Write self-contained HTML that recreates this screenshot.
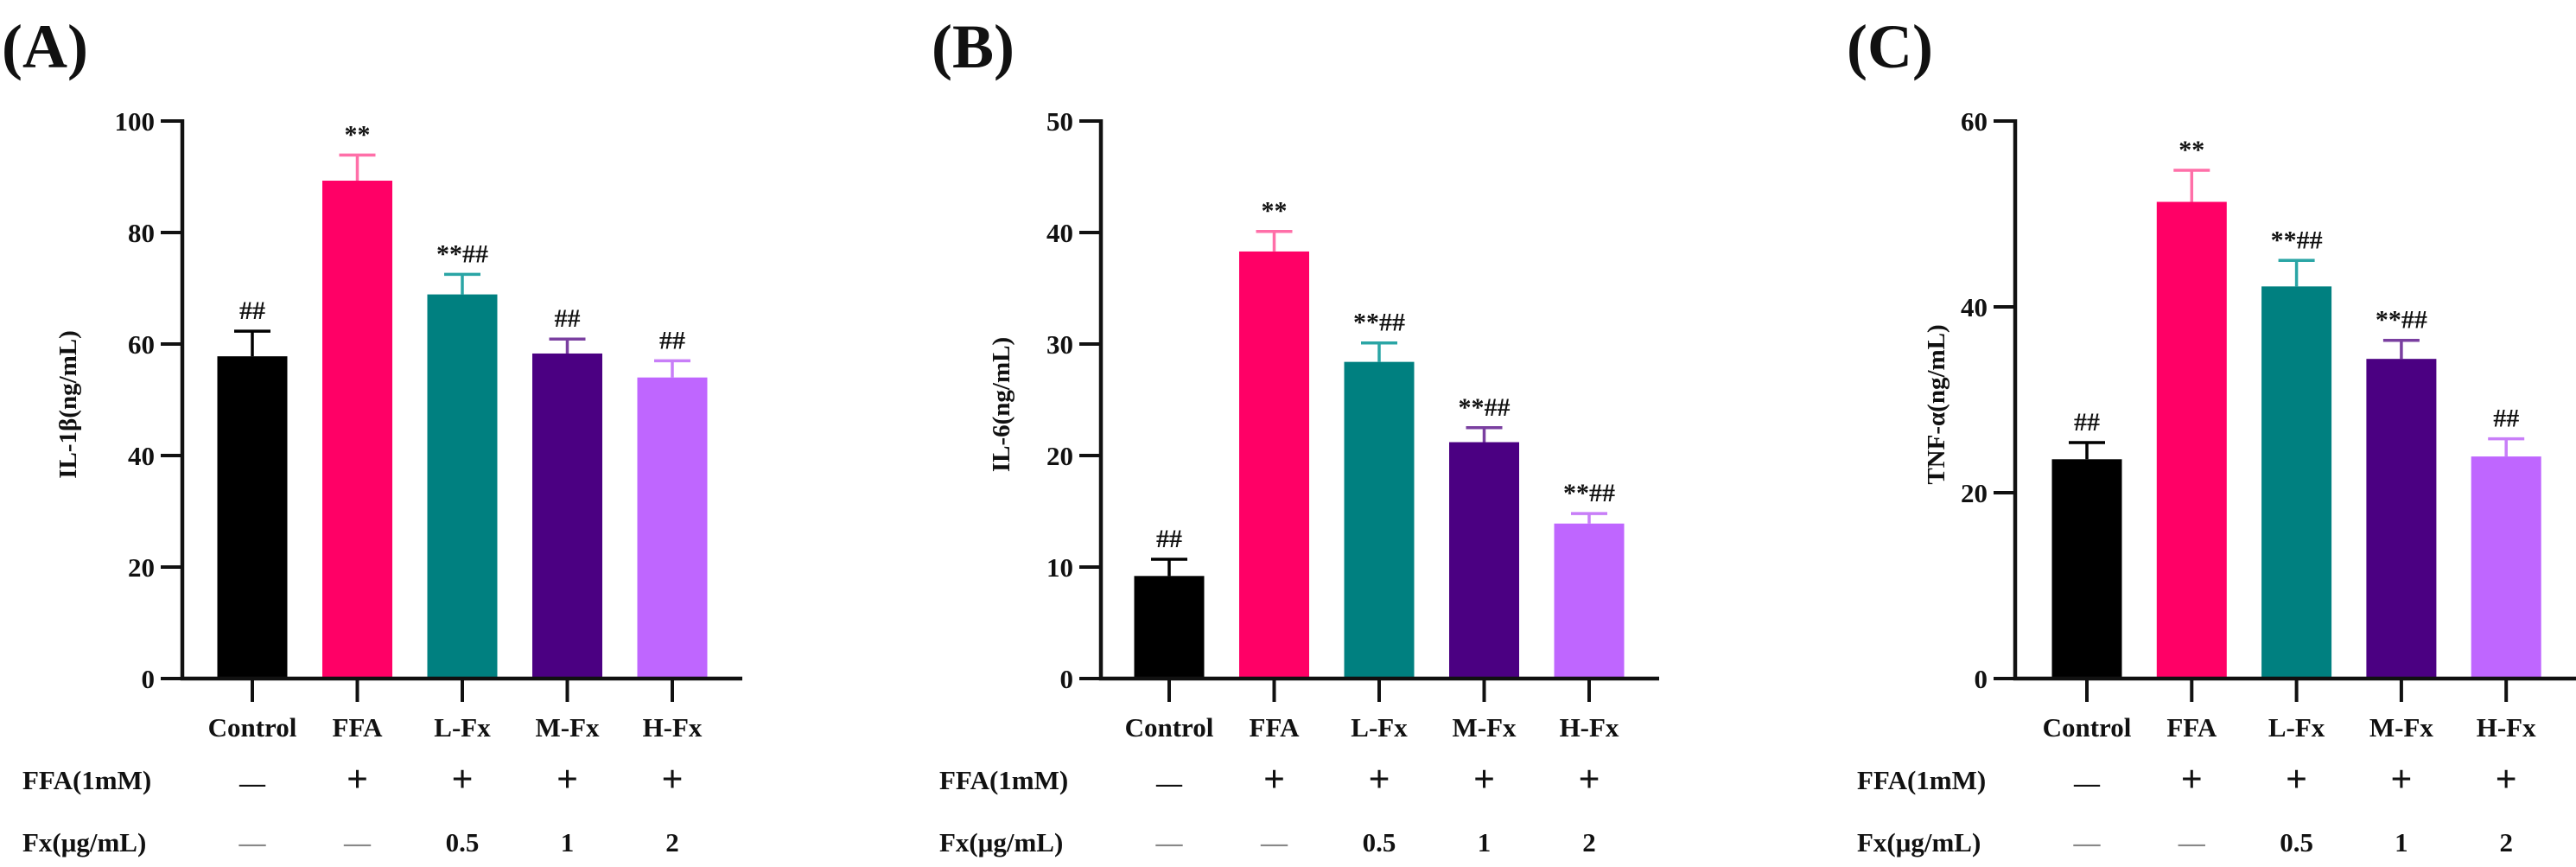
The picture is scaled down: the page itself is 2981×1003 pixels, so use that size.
<!DOCTYPE html>
<html><head><meta charset="utf-8"><style>
html,body{margin:0;padding:0;background:#fff;}
svg{display:block;}
text{font-family:"Liberation Serif",serif;font-weight:bold;fill:#111;}
</style></head><body>
<svg id="fig" width="2981" height="1003" viewBox="0 0 2981 1003" xmlns="http://www.w3.org/2000/svg"></svg>
<script>
const categories = ["Control","FFA","L-Fx","M-Fx","H-Fx"];
const ffaRow = ["—","+","+","+","+"];
const fxRow = ["—","—","0.5","1","2"];
const barColors = ["#000000","#ff0066","#008080","#4b0082","#bf66ff"];
const errColors = ["#000000","#ff6fa8","#2aa5a5","#7a3fa0","#c87ef8"];
const valuesA = [57.8, 89.3, 68.9, 58.3, 54.0];
const errorsA = [4.5, 4.6, 3.6, 2.6, 3.0];
const signifA = ["##","**","**##","##","##"];
const ticksA = [0,20,40,60,80,100];
const valuesB = [9.2, 38.3, 28.4, 21.2, 13.9];
const errorsB = [1.5, 1.8, 1.7, 1.3, 0.9];
const signifB = ["##","**","**##","**##","**##"];
const ticksB = [0,10,20,30,40,50];
const valuesC = [23.6, 51.3, 42.2, 34.4, 23.9];
const errorsC = [1.8, 3.4, 2.8, 2.0, 1.9];
const signifC = ["##","**","**##","**##","##"];
const ticksC = [0,20,40,60];

const NS="http://www.w3.org/2000/svg";
const svg=document.getElementById('fig');
function mk(tag,attrs,parent){const e=document.createElementNS(NS,tag);for(const k in attrs)e.setAttribute(k,attrs[k]);(parent||svg).appendChild(e);return e;}

function panel(p){
  const g=mk('g',{});
  
  
  const top=140, base=785, ymax=p.ticks[p.ticks.length-1];
  const y=v=>base-(v/ymax)*(base-top);
  const x=i=>p.x0+i*p.step;
  const lbl=mk('text',{x:p.labelX,y:78,'font-size':72},g);lbl.textContent='('+p.id+')';
  
  
  // bars
  categories.forEach((c,i)=>{
    const v=p.values[i], e=p.errors[i];
    const bar=mk('rect',{x:x(i)-40.5,y:y(v),width:81,height:base-y(v),fill:barColors[i]},g);
    
    
    const eb=mk('path',{d:`M${x(i)},${y(v)} V${y(v+e)} M${x(i)-21},${y(v+e)} H${x(i)+21}`,stroke:errColors[i],'stroke-width':3.5,fill:'none'},g);
    
    
    const s=mk('text',{x:x(i),y:y(v+e)-14,'font-size':30,'text-anchor':'middle'},g);s.textContent=p.signif[i];
    
    
    const tk=mk('line',{x1:x(i),x2:x(i),y1:base,y2:base+27,stroke:'#111','stroke-width':4},g);
    const cl=mk('text',{x:x(i),y:852,'font-size':31,'text-anchor':'middle'},g);cl.textContent=c;
    
    
    const r1=mk('text',{x:x(i),y:916,'font-size':ffaRow[i]=='+'?44:30,'text-anchor':'middle'},g);r1.textContent=ffaRow[i];
    
    
    const r2=mk('text',{x:x(i),y:985,'font-size':31,'text-anchor':'middle'},g);r2.textContent=fxRow[i];
    if(fxRow[i]=='—')r2.setAttribute('style','fill:#888');
    
    
  });
  // axes
  const ax=mk('path',{d:`M${p.ax},${top-2} V${base} H${p.xEnd}`,stroke:'#111','stroke-width':4.5,fill:'none'},g);
  
  
  p.ticks.forEach(t=>{
    mk('line',{x1:p.ax-25,x2:p.ax,y1:y(t),y2:y(t),stroke:'#111','stroke-width':4},g);
    const tl=mk('text',{x:p.ax-32,y:y(t)+11,'font-size':31,'text-anchor':'end'},g);tl.textContent=t;
    
    
  });
  const yt=mk('text',{x:0,y:0,'font-size':29,'text-anchor':'middle',transform:`translate(${p.ytX},468) rotate(-90)`},g);yt.textContent=p.ytitle;
  
  
  const f1=mk('text',{x:p.rowX,y:913,'font-size':31},g);f1.textContent='FFA(1mM)';
  
  
  const f2=mk('text',{x:p.rowX,y:985,'font-size':31},g);f2.textContent='Fx(μg/mL)';
  
  
}
panel({id:'A',labelX:2,x0:292,step:121.5,ax:211,xEnd:859,ytX:88,rowX:26,values:valuesA,errors:errorsA,signif:signifA,ticks:ticksA,ytitle:'IL-1β(ng/mL)'});
panel({id:'B',labelX:1078,x0:1353,step:121.5,ax:1274,xEnd:1920,ytX:1168,rowX:1087,values:valuesB,errors:errorsB,signif:signifB,ticks:ticksB,ytitle:'IL-6(ng/mL)'});
panel({id:'C',labelX:2137,x0:2415,step:121.3,ax:2332,xEnd:2981,ytX:2250,rowX:2149,values:valuesC,errors:errorsC,signif:signifC,ticks:ticksC,ytitle:'TNF-α(ng/mL)'});
</script>
</body></html>
